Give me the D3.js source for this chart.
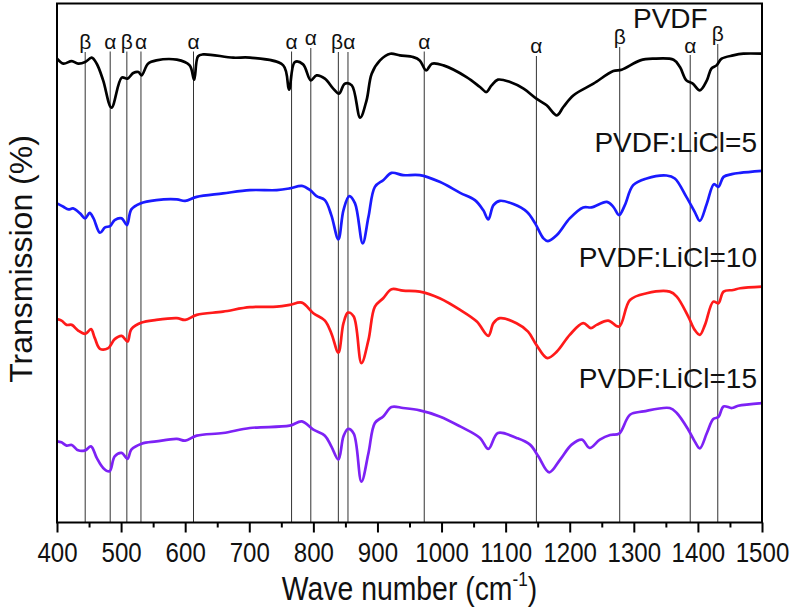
<!DOCTYPE html>
<html>
<head>
<meta charset="utf-8">
<script src="https://cdn.jsdelivr.net/npm/d3@7"></script>
<style>
  html, body { margin: 0; padding: 0; background: #fff; }
  svg { display: block; font-family: "Liberation Sans", Arial, sans-serif; }
</style>
</head>
<body>
<svg id="chart" width="796" height="611"></svg>
<script>
// ---- data (wave number cm^-1, transmission a.u.) ----
const pvdf = [[400,485.7],[410,480.7],[423,483.3],[433,480.7],[444,482.3],[454,486.7],[462,480.7],[472,464],[485,436.7],[501,466.7],[510,465.7],[519,471.3],[527,472.3],[532,469],[542,480.7],[555,484],[587,484.7],[607,479],[614,464.7],[620,488],[628,490],[675,486.7],[701,486.7],[753,479],[762,454.7],[771,482.3],[784,480],[796,464],[805,469],[818,465.7],[831,455.7],[840,450.7],[849,460.7],[860,459],[873,426.7],[883,444],[891,470.7],[904,484],[920,490.7],[935,489],[956,487.3],[966,484],[976,474],[985,480.7],[1003,479],[1039,467.3],[1060,457.3],[1070,452.3],[1078,459],[1088,464.7],[1107,462.3],[1128,455.7],[1148,445.7],[1164,439],[1180,429],[1190,437.3],[1206,449],[1237,460.7],[1268,473.3],[1281,474.7],[1310,484],[1330,485.7],[1362,484.7],[1372,477.3],[1382,464],[1392,460.7],[1403,454],[1414,464],[1421,475.7],[1429,479],[1437,485.7],[1455,489],[1471,490.7],[1500,490.7]];

const licl5 = [[400,340.7],[410,337.3],[418,334.7],[425,335.7],[436,330.7],[444,325.7],[451,331.3],[457,325.7],[467,311.3],[475,316.7],[483,318],[490,324],[501,325.7],[509,319],[516,334.7],[530,340.7],[555,344],[587,344.7],[600,343.3],[618,347.3],[659,350.7],[701,354],[743,354],[763,355.7],[782,358.3],[795,354],[805,348],[818,344],[828,329],[839,304.7],[847,334],[856,348],[865,340.7],[877,300.7],[886,327.3],[896,357.3],[909,364],[922,371.3],[940,369],[966,369],[997,362.3],[1029,351.3],[1052,344],[1065,334],[1073,324.7],[1081,339],[1091,343.3],[1112,340],[1133,332.3],[1146,320.7],[1159,305.7],[1166,303],[1180,309],[1200,325.7],[1221,336.7],[1234,336.7],[1258,342.3],[1268,337.3],[1277,329],[1286,339],[1299,359],[1320,365.7],[1351,368.7],[1364,365.7],[1382,347.3],[1395,332.3],[1403,323.3],[1414,340.7],[1425,360],[1432,357.3],[1440,367.3],[1453,370],[1466,371.3],[1500,373.3]];

const licl10 = [[400,224.7],[407,223.3],[415,219],[423,219],[433,213.3],[444,210],[453,214.7],[459,205.7],[467,195],[480,195.7],[490,204.7],[501,208],[510,202.3],[516,214.7],[532,221.3],[555,224],[587,225.7],[600,224],[618,229],[659,232.3],[701,236.7],[743,237.3],[763,239],[782,241.3],[800,230.7],[818,223.3],[828,210.7],[839,191.3],[847,220.7],[854,231.3],[863,227.3],[875,180.7],[886,204],[896,237.3],[909,245.7],[922,254.7],[940,253.3],[966,252.3],[997,245.7],[1029,234],[1055,222.3],[1073,208],[1081,220.7],[1091,225.7],[1117,220.7],[1135,212.3],[1148,199],[1165,185.7],[1180,192.3],[1200,209],[1221,220.7],[1233,215.7],[1242,219],[1260,223.3],[1277,217.3],[1294,244],[1320,250.7],[1356,252.3],[1367,247.3],[1385,227.3],[1395,214],[1403,209],[1411,219],[1424,242.3],[1432,240.7],[1440,252.3],[1455,254],[1466,255.7],[1500,257.3]];

const licl15 = [[400,102.3],[407,101.3],[415,98],[423,98.7],[433,93.3],[444,93.3],[453,97.3],[462,85.7],[472,75.7],[482,72.3],[490,87.3],[501,90.7],[510,84.7],[516,94],[532,100],[555,102.3],[587,104.7],[600,103],[618,108],[659,110.7],[701,115.7],[763,118],[782,122.3],[800,114],[818,108],[828,97.3],[839,84],[847,107.3],[854,114.7],[863,110],[875,62],[886,90.7],[896,120.7],[909,127.3],[922,136.7],[940,135.7],[966,133.3],[997,127.3],[1029,117.3],[1060,105.7],[1073,94.7],[1088,110.7],[1117,105.7],[1138,99],[1151,87.3],[1168,71.3],[1185,84],[1203,99],[1219,104],[1231,95.7],[1247,104],[1263,108.7],[1277,110],[1294,129],[1315,132.3],[1356,135.7],[1367,130.7],[1385,114],[1395,102.3],[1403,95.3],[1414,110.7],[1424,124.7],[1432,126.7],[1440,137.3],[1453,135.7],[1463,138],[1500,140.7]];

const seriesNames = ["PVDF", "PVDF:LiCl=5", "PVDF:LiCl=10", "PVDF:LiCl=15"];
const seriesColors = ["#000000", "#1a1aff", "#ff1a1a", "#7d22f5"];

// reference band positions (vertical lines)
const bandWaves = [444, 483, 509, 531, 613, 766, 796, 839, 854, 973, 1148, 1278, 1388, 1431];
const bandLineTop = [52, 51.5, 51.5, 51.5, 51.5, 51.5, 48, 52, 52, 51.5, 56, 47, 55, 44];
// phase labels above the lines
const phaseText = ["β", "α", "β", "α", "α", "α", "α", "βα", "α", "α", "β", "α", "β"];
const phaseWave = [444, 483, 509, 531, 613, 766, 796, 846.5, 973, 1148, 1278, 1388, 1431];
const phaseY    = [49, 48.5, 48.5, 48.5, 48.5, 48.5, 45, 49, 48.5, 53, 44, 52.5, 41];

const xTicks = [400, 500, 600, 700, 800, 900, 1000, 1100, 1200, 1300, 1400, 1500];
const xMinorTicks = [450, 550, 650, 750, 850, 950, 1050, 1150, 1250, 1350, 1450];

// ---- layout ----
const svg = d3.select("#chart");
const L = 57, R = 762, T = 3.5, B = 522.5;
const x = d3.scaleLinear().domain([400, 1500]).range([L, R]);
const y = d3.scaleLinear().domain([21, 541]).range([B, T]);

// reference lines
const bandG = svg.append("g");
bandWaves.forEach((w, i) => {
  bandG.append("line")
    .attr("x1", x(w)).attr("x2", x(w))
    .attr("y1", bandLineTop[i]).attr("y2", B)
    .attr("stroke", "#333").attr("stroke-width", 1);
});
phaseText.forEach((t, i) => {
  bandG.append("text")
    .attr("x", x(phaseWave[i])).attr("y", phaseY[i])
    .attr("text-anchor", "middle")
    .attr("font-size", 21)
    .attr("fill", "#111")
    .text(t);
});

// curves
const line = d3.line().x(d => x(d[0])).y(d => y(d[1])).curve(d3.curveCatmullRom.alpha(0.5));
[pvdf, licl5, licl10, licl15].forEach((s, i) => {
  svg.append("path").datum(s)
    .attr("d", line)
    .attr("fill", "none")
    .attr("stroke", seriesColors[i])
    .attr("stroke-width", 2.7)
    .attr("stroke-linejoin", "round");
});

// series labels
const labelPos = [[633, 28, "start"], [757, 151.7, "end"], [757, 266.7, "end"], [757, 388.3, "end"]];
seriesNames.forEach((n, i) => {
  svg.append("text")
    .attr("x", labelPos[i][0]).attr("y", labelPos[i][1])
    .attr("text-anchor", labelPos[i][2])
    .attr("font-size", 28)
    .attr("fill", "#111")
    .text(n);
});

// axes
const minorAxis = d3.axisBottom(x).tickValues(xMinorTicks).tickSize(5).tickFormat("");
const gMinor = svg.append("g").attr("transform", `translate(0,${B})`).call(minorAxis);
gMinor.select(".domain").remove();
gMinor.selectAll("line").attr("stroke", "#000").attr("stroke-width", 2);

const majorAxis = d3.axisBottom(x).tickValues(xTicks).tickSizeInner(10).tickSizeOuter(0).tickPadding(0).tickFormat(d3.format("d"));
const gMajor = svg.append("g").attr("transform", `translate(0,${B})`).call(majorAxis);
gMajor.select(".domain").remove();
gMajor.selectAll("line").attr("stroke", "#000").attr("stroke-width", 2);
gMajor.selectAll("text")
  .attr("y", 39.5).attr("dy", null)
  .attr("font-size", 28)
  .attr("font-family", "'Liberation Sans', Arial, sans-serif")
  .attr("fill", "#111")
  .attr("transform", "scale(0.86,1)")
  .attr("x", 0);

// frame
svg.append("rect")
  .attr("x", L).attr("y", T).attr("width", R - L).attr("height", B - T)
  .attr("fill", "none").attr("stroke", "#000").attr("stroke-width", 2);

// x title
const xt = svg.append("text")
  .attr("transform", `translate(${(L + R) / 2},600) scale(0.86,1)`)
  .attr("text-anchor", "middle")
  .attr("font-size", 33)
  .attr("fill", "#111");
xt.append("tspan").text("Wave number (cm");
xt.append("tspan").attr("font-size", 20).attr("dy", -14).text("-1");
xt.append("tspan").attr("dy", 14).text(")");

// y title
svg.append("text")
  .attr("transform", `translate(32,${(T + B) / 2 - 4}) rotate(-90)`)
  .attr("text-anchor", "middle")
  .attr("font-size", 32)
  .attr("fill", "#111")
  .text("Transmission (%)");
</script>
</body>
</html>
